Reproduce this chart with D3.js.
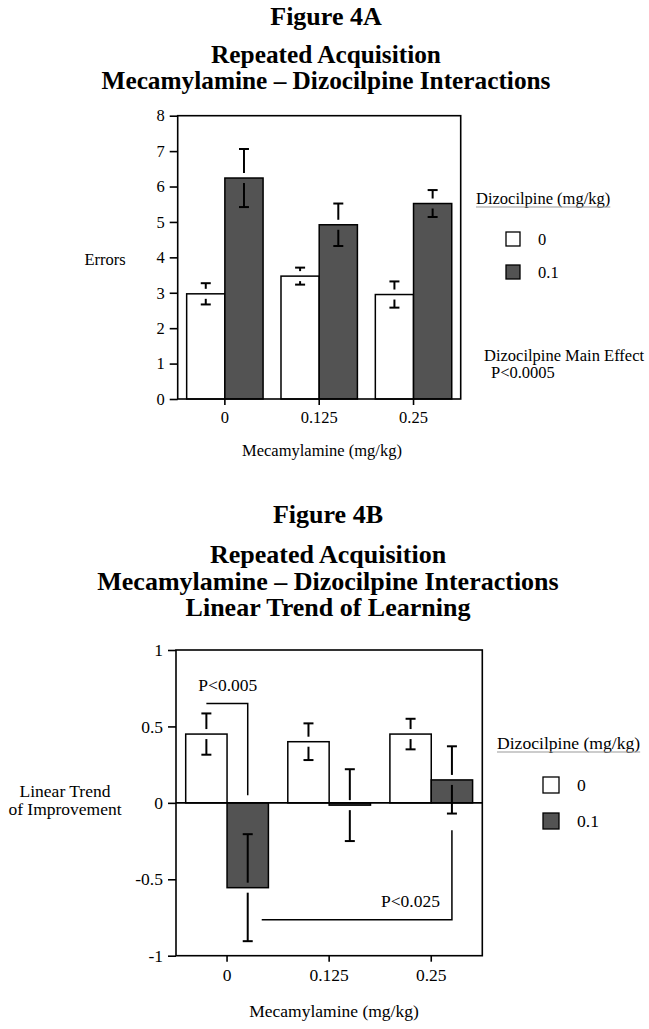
<!DOCTYPE html>
<html><head><meta charset="utf-8">
<script src="https://cdn.jsdelivr.net/npm/d3@7"></script>
<style>body{margin:0;background:#fff}svg text{font-family:"Liberation Serif","Times New Roman",serif;fill:#000}</style>
</head><body>
<svg id="c" width="649" height="1029"></svg>
<script>
// ---------- data ----------
const categories = ["0", "0.125", "0.25"];
const doseLabels = ["0", "0.1"];
// Figure 4A: Errors
const errorsMeanVeh = [2.97, 3.47, 2.95];
const errorsSemVeh  = [0.30, 0.24, 0.37];
const errorsMeanDiz = [6.24, 4.92, 5.52];
const errorsSemDiz  = [0.82, 0.60, 0.38];
const errorsTicks = [0, 1, 2, 3, 4, 5, 6, 7, 8];
const errorsTickLabels = ["0", "1", "2", "3", "4", "5", "6", "7", "8"];
// Figure 4B: Linear trend of improvement
const trendMeanVeh = [0.45, 0.40, 0.45];
const trendSemVeh  = [0.135, 0.12, 0.10];
const trendMeanDiz = [-0.555, -0.015, 0.15];
const trendSemDiz  = [0.35, 0.235, 0.22];
const trendTicks = [-1, -0.5, 0, 0.5, 1];
const trendTickLabels = ["-1", "-0.5", "0", "0.5", "1"];
// significance brackets (4B)
const bracketLabels = ["P<0.005", "P<0.025"];
const bracketLevels = [0.65, -0.765];
const bracketEnds = [0.05, -0.18];

const svg = d3.select("#c");
const FONT = "'Liberation Serif','Times New Roman',serif";
const DARK = "#535353";

function title(lines, x, ys, size) {
  svg.append("text").attr("x", x).attr("y", ys[0]).attr("text-anchor", "middle")
    .attr("font-weight", "bold").attr("font-size", size[0]).text(lines[0]);
  const t = svg.append("text").attr("text-anchor", "middle").attr("font-weight", "bold");
  lines.slice(1).forEach((l, i) => t.append("tspan").attr("x", x).attr("y", ys[i + 1])
    .attr("font-size", size[i + 1]).text(l));
}

function panel(o) {
  const g = svg.append("g");
  const x = d3.scaleBand().domain(categories).range([o.left, o.right]).padding(0);
  const y = d3.scaleLinear().domain(o.domain).range([o.bottom, o.top]);
  const bw = x.bandwidth() * 0.405;
  const cx = c => x(c) + x.bandwidth() / 2;

  const ya = d3.axisLeft(y).tickValues(o.ticks).tickFormat((d, i) => o.tickLabels[i])
    .tickSize(8).tickPadding(5);
  const yg = g.append("g").attr("transform", `translate(${o.left},0)`).call(ya);
  yg.select(".domain").remove();
  yg.selectAll("line").attr("stroke", "#000").attr("stroke-width", 1.6);
  yg.selectAll("text").attr("font-size", o.tickFs).attr("font-family", FONT).attr("fill", "#000");

  const xa = d3.axisBottom(x).tickSize(6).tickPadding(o.xPad);
  const xg = g.append("g").attr("transform", `translate(0,${o.bottom})`).call(xa);
  xg.select(".domain").remove();
  xg.selectAll("line").attr("stroke", "#000").attr("stroke-width", 1.6);
  xg.selectAll("text").attr("font-size", o.tickFs).attr("font-family", FONT).attr("fill", "#000");

  const series = [
    {mean: o.meanV, sem: o.semV, fill: "#fff", off: -bw},
    {mean: o.meanD, sem: o.semD, fill: DARK, off: 0}
  ];
  const base = y(Math.max(o.domain[0], 0));
  series.forEach(s => {
    g.selectAll(null).data(categories).enter().append("rect")
      .attr("x", c => cx(c) + s.off)
      .attr("width", bw)
      .attr("y", (c, i) => Math.min(y(s.mean[i]), base))
      .attr("height", (c, i) => Math.max(Math.abs(y(s.mean[i]) - base), 1.5))
      .attr("fill", s.fill).attr("stroke", "#000").attr("stroke-width", 1.5);
  });
  const gap = 5, cap = 5;
  series.forEach(s => {
    categories.forEach((c, i) => {
      const xc = cx(c) + s.off + bw / 2;
      const ym = y(s.mean[i]), yh = y(s.mean[i] + s.sem[i]), yl = y(s.mean[i] - s.sem[i]);
      const eg = g.append("g").attr("stroke", "#000").attr("stroke-width", 2);
      if (ym - gap > yh) eg.append("line").attr("x1", xc).attr("x2", xc).attr("y1", yh).attr("y2", ym - gap);
      if (ym + gap < yl) eg.append("line").attr("x1", xc).attr("x2", xc).attr("y1", ym + gap).attr("y2", yl);
      eg.append("line").attr("x1", xc - cap).attr("x2", xc + cap).attr("y1", yh).attr("y2", yh);
      eg.append("line").attr("x1", xc - cap).attr("x2", xc + cap).attr("y1", yl).attr("y2", yl);
    });
  });
  if (o.zeroLine) {
    g.append("line").attr("x1", o.left).attr("x2", o.right).attr("y1", y(0)).attr("y2", y(0))
      .attr("stroke", "#000").attr("stroke-width", 1.6);
  }
  g.append("rect").attr("x", o.left).attr("y", o.top).attr("width", o.right - o.left)
    .attr("height", o.bottom - o.top).attr("fill", "none").attr("stroke", "#000").attr("stroke-width", 1.6);
  return {x, y, bw, cx};
}

function legend(o) {
  const t = svg.append("text").attr("x", o.x).attr("y", o.y).attr("font-size", o.fs)
    .attr("fill", "#222").text("Dizocilpine (mg/kg)");
  const w = t.node().getComputedTextLength();
  svg.append("line").attr("x1", o.x).attr("x2", o.x + w).attr("y1", o.y + 3).attr("y2", o.y + 3)
    .attr("stroke", "#999").attr("stroke-width", 1.2);
  doseLabels.forEach((d, i) => {
    svg.append("rect").attr("x", o.sx).attr("y", o.sy + i * o.dy).attr("width", o.ss).attr("height", o.ss)
      .attr("fill", i === 0 ? "#fff" : DARK).attr("stroke", "#000").attr("stroke-width", 1.3);
    svg.append("text").attr("x", o.lx).attr("y", o.sy + i * o.dy + o.ss / 2 + o.fs * 0.34)
      .attr("font-size", o.fs).text(d);
  });
}

// ---------- Figure 4A ----------
title(["Figure 4A", "Repeated Acquisition", "Mecamylamine \u2013 Dizocilpine Interactions"],
  326, [25, 63, 89], [26, 25.3, 25.3]);
panel({left: 177.7, right: 460.7, top: 115.7, bottom: 399, domain: [0, 8],
  ticks: errorsTicks, tickLabels: errorsTickLabels, tickFs: 16.5, xPad: 6,
  meanV: errorsMeanVeh, semV: errorsSemVeh, meanD: errorsMeanDiz, semD: errorsSemDiz});
svg.append("text").attr("x", 105).attr("y", 265).attr("text-anchor", "middle").attr("font-size", 16.5).text("Errors");
svg.append("text").attr("x", 322).attr("y", 456).attr("text-anchor", "middle").attr("font-size", 16.5).text("Mecamylamine (mg/kg)");
legend({x: 476, y: 204, fs: 16.5, sx: 506, sy: 232, ss: 14, dy: 33, lx: 538});
{
  const t = svg.append("text").attr("font-size", 16.5);
  t.append("tspan").attr("x", 484).attr("y", 361).text("Dizocilpine Main Effect");
  t.append("tspan").attr("x", 491).attr("y", 378).text("P<0.0005");
}

// ---------- Figure 4B ----------
title(["Figure 4B", "Repeated Acquisition", "Mecamylamine \u2013 Dizocilpine Interactions", "Linear Trend of Learning"],
  328, [523, 563, 589.5, 616], [26, 26, 26, 26]);
const p = panel({left: 176, right: 482.3, top: 650, bottom: 955.7, domain: [-1, 1],
  ticks: trendTicks, tickLabels: trendTickLabels, tickFs: 17.5, xPad: 7, zeroLine: true,
  meanV: trendMeanVeh, semV: trendSemVeh, meanD: trendMeanDiz, semD: trendSemDiz});
{
  const t = svg.append("text").attr("text-anchor", "middle").attr("font-size", 17.5);
  t.append("tspan").attr("x", 65).attr("y", 797).text("Linear Trend");
  t.append("tspan").attr("x", 65).attr("y", 815).text("of Improvement");
}
svg.append("text").attr("x", 334).attr("y", 1017).attr("text-anchor", "middle").attr("font-size", 17.5).text("Mecamylamine (mg/kg)");
legend({x: 497, y: 749, fs: 17.6, sx: 543, sy: 777, ss: 16, dy: 36, lx: 577});

{
  const vC = c => p.cx(c) - p.bw / 2, dC = c => p.cx(c) + p.bw / 2;
  const bg = svg.append("g").attr("stroke", "#000").attr("stroke-width", 1.5).attr("fill", "none");
  const y1 = p.y(bracketLevels[0]);
  bg.append("path").attr("d", `M${vC(categories[0])},${y1}H${dC(categories[0])}V${p.y(bracketEnds[0])}`);
  svg.append("text").attr("x", vC(categories[0]) - 8).attr("y", y1 - 12.5).attr("font-size", 17.5).text(bracketLabels[0]);
  const y2 = p.y(bracketLevels[1]);
  bg.append("path").attr("d", `M${dC(categories[0]) + 14},${y2}H${dC(categories[2])}V${p.y(bracketEnds[1])}`);
  svg.append("text").attr("x", dC(categories[2]) - 12).attr("y", y2 - 12.5).attr("text-anchor", "end")
    .attr("font-size", 17.5).text(bracketLabels[1]);
}
</script>
</body></html>
